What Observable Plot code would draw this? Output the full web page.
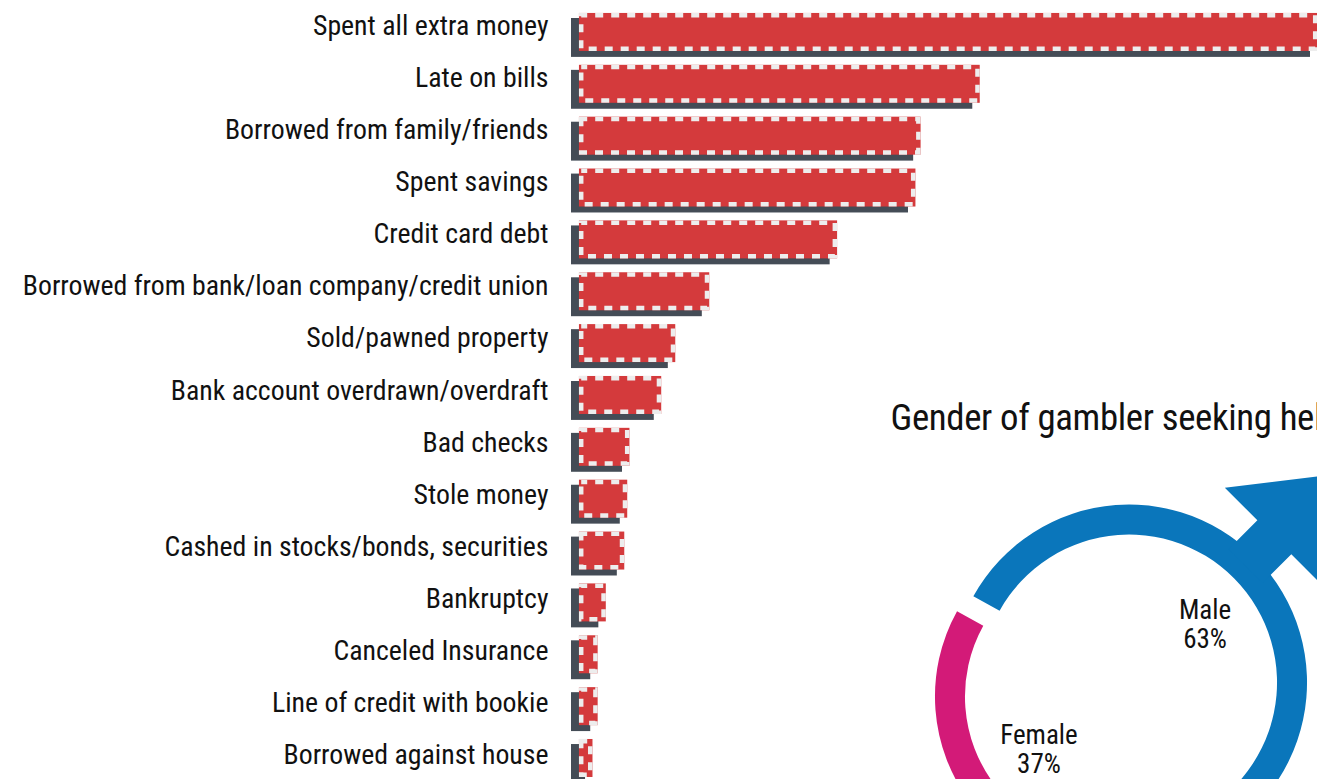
<!DOCTYPE html>
<html>
<head>
<meta charset="utf-8">
<script src="https://cdn.jsdelivr.net/npm/d3@7"></script>
<script src="https://cdn.jsdelivr.net/npm/@observablehq/plot@0.6"></script>
<style>
  html, body { margin: 0; padding: 0; background: #fff; overflow: hidden; }
  svg { display: block; background: #fff; }
  text { font-stretch: condensed; }
  .chart-title text { letter-spacing: -0.35px; }
</style>
</head>
<body>
<div id="chart"></div>
<script>
const categories = [
  "Spent all extra money", "Late on bills", "Borrowed from family/friends", "Spent savings",
  "Credit card debt", "Borrowed from bank/loan company/credit union", "Sold/pawned property",
  "Bank account overdrawn/overdraft", "Bad checks", "Stole money",
  "Cashed in stocks/bonds, securities", "Bankruptcy", "Canceled Insurance",
  "Line of credit with bookie", "Borrowed against house"
];
const shares = [100, 54.3, 46.3, 45.6, 35.0, 17.7, 13.1, 11.2, 6.9, 6.6, 6.2, 3.7, 2.6, 2.6, 1.9];
const genders = ["Male", "Female"];
const genderShares = [63, 37];
const genderColors = ["#0a76bb", "#d31a78"];
const title = "Gender of gambler seeking help";

const FONT = "'Liberation Sans Narrow', 'Roboto', sans-serif";
const rows = categories.map((category, i) => ({category, share: shares[i]}));

function donut() {
  const g = d3.create("svg:g");
  const cx = 1120, cy = 689.5, explode = 11.4;
  const start = -61 * Math.PI / 180;
  const slices = d3.pie().sort(null).startAngle(start).endAngle(start + 2 * Math.PI)(genderShares);
  const outer = [178, 176], inner = [148, 146];
  const labelAt = [[76, -64, -35], [-72, 47.5, 76.5]];
  slices.forEach((s, i) => {
    const mid = (s.startAngle + s.endAngle) / 2;
    const sx = cx + explode * Math.sin(mid), sy = cy - explode * Math.cos(mid);
    const slice = g.append("g").attr("transform", `translate(${sx},${sy})`);
    const arc = d3.arc().innerRadius(inner[i]).outerRadius(outer[i]);
    slice.append("path").attr("d", arc(s)).attr("fill", genderColors[i]);
    if (i === 0) {
      const pt = (u, v) => [u * Math.SQRT1_2 + v * Math.SQRT1_2, -u * Math.SQRT1_2 + v * Math.SQRT1_2];
      const shape = [[165, -24], [205.5, -24], [205.5, -70], [295, 0], [205.5, 70], [205.5, 24], [165, 24]].map(([u, v]) => pt(u, v));
      slice.append("path").attr("d", d3.line()(shape) + "Z").attr("fill", genderColors[i]);
    }
    const t = slice.append("text")
      .attr("text-anchor", "middle")
      .attr("font-family", FONT).attr("font-size", 27).attr("fill", "#111");
    const [lx, y1, y2] = labelAt[i];
    t.append("tspan").attr("x", lx).attr("y", y1).text(genders[i]);
    t.append("tspan").attr("x", lx).attr("y", y2).text(genderShares[i] + "%");
  });
  return g.node();
}

const labelDrift = {
  render(I, s, v, d, c, next) {
    const y = Float64Array.from(v.y, (py, i) => py - 11.8 + i * 0.21);
    return next(I, s, {...v, y}, d, c);
  }
};

const chart = Plot.plot({
  width: 1317,
  height: 779,
  marginLeft: 0, marginRight: 0, marginTop: 0, marginBottom: 0,
  style: {fontFamily: FONT, background: "#fff", overflow: "hidden"},
  x: {domain: [0, 100], range: [571, 1310], axis: null},
  y: {domain: categories, range: [5.035, 795.9], padding: 0.25, round: false, axis: null},
  marks: [
    Plot.barX(rows, {x: "share", y: "category", fill: "#444c56"}),
    Plot.barX(rows, {x: "share", y: "category", fill: "#d43a3c", stroke: "#d43a3c", strokeWidth: 4.5,
      dx: 10.2, dy: -5.5, insetRight: 5, insetTop: 2.7, insetBottom: 2.7}),
    Plot.barX(rows, {x: "share", y: "category", fill: "none", stroke: "#ededed", strokeWidth: 4.5,
      strokeDasharray: "8 8", strokeDashoffset: 2,
      dx: 10.2, dy: -5.5, insetRight: 5, insetTop: 2.7, insetBottom: 2.7}),
    Plot.text(rows, {x: () => 0, y: "category", text: "category", textAnchor: "end", dx: -23, fontSize: 27.8, fill: "#111", ...labelDrift}),
    Plot.text([title], {frameAnchor: "top-left", textAnchor: "start", lineAnchor: "bottom", dx: 890, dy: 429.5, fontSize: 36.8, fill: "#111", className: "chart-title"}),
    donut
  ]
});
document.getElementById("chart").appendChild(chart);
</script>
</body>
</html>
